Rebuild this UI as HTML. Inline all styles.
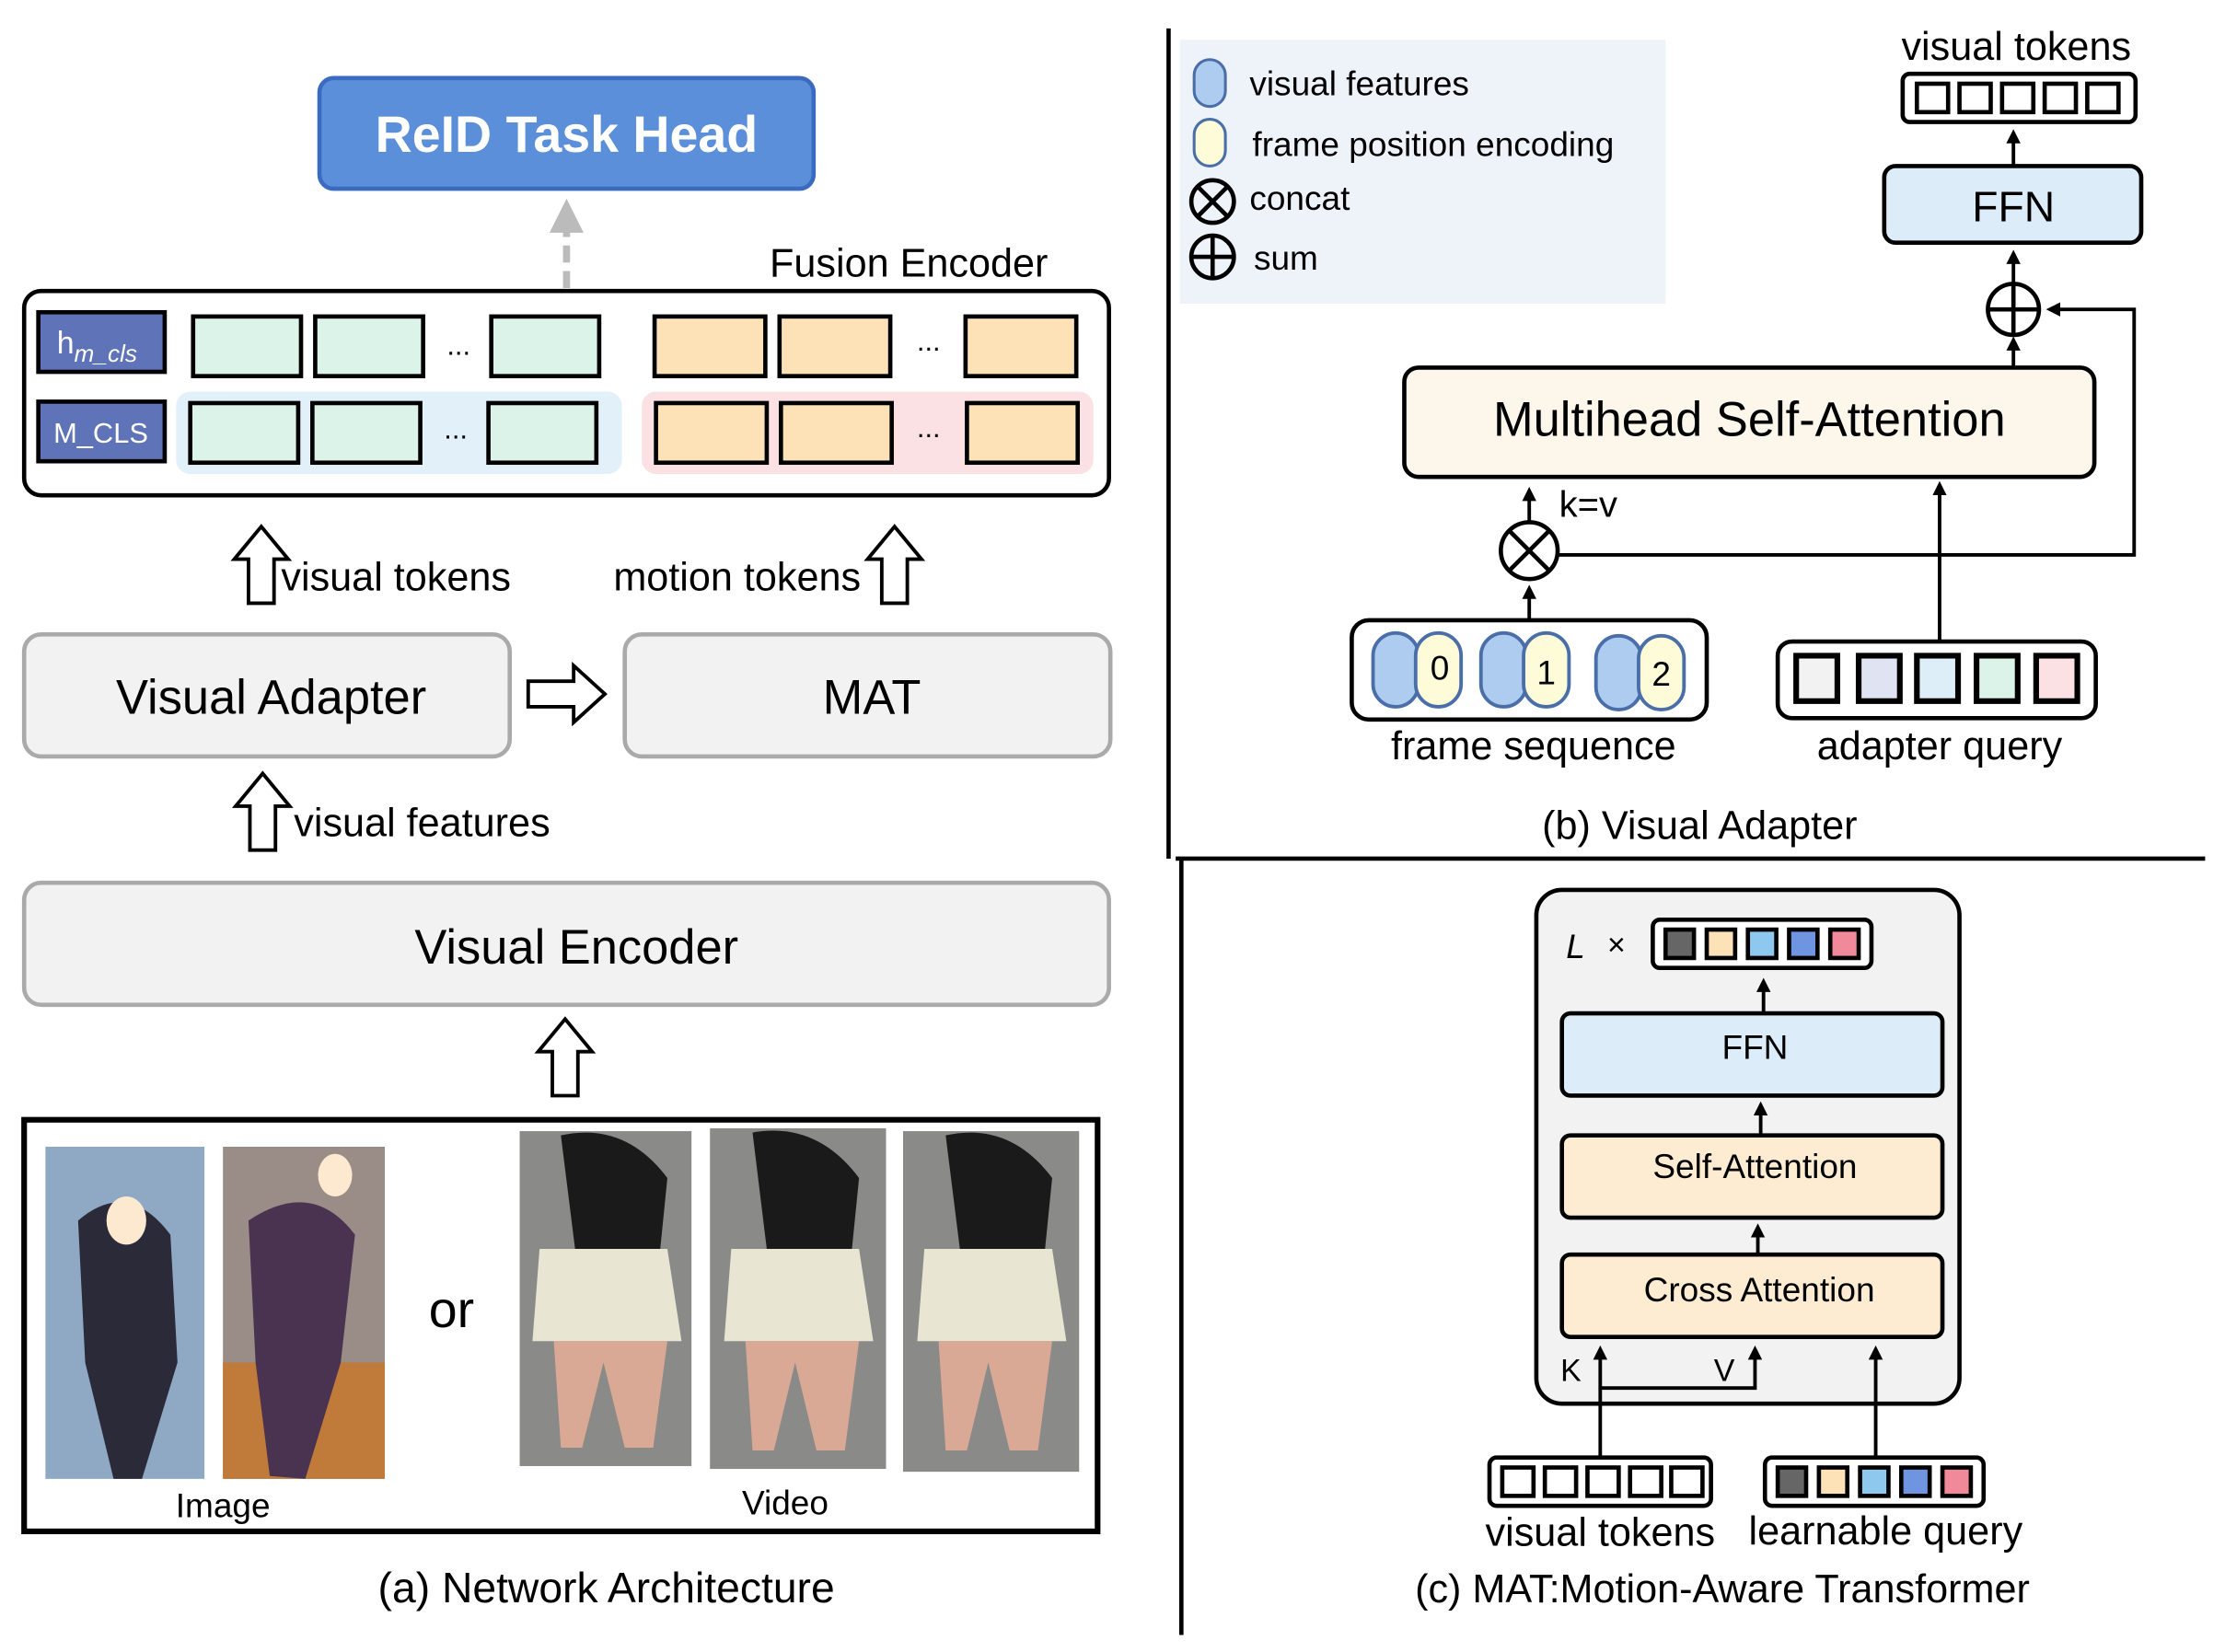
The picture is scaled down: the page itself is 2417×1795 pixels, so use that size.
<!DOCTYPE html>
<html><head><meta charset="utf-8"><style>
html,body{margin:0;padding:0;background:#fff}
svg{display:block}
text{font-family:"Liberation Sans",Arial,sans-serif;fill:#000}
</style></head><body>
<svg width="2417" height="1795" viewBox="0 0 1567 1164" preserveAspectRatio="none" xmlns="http://www.w3.org/2000/svg">
<defs>
<marker id="ah" markerWidth="10" markerHeight="10" refX="5" refY="5" orient="auto" markerUnits="userSpaceOnUse" viewBox="0 0 10 10"><path d="M0,0 L10,5 L0,10 z" fill="#000"/></marker>
<marker id="ahg" markerWidth="24" markerHeight="24" refX="12" refY="12" orient="auto" markerUnits="userSpaceOnUse" viewBox="0 0 24 24"><path d="M0,0 L24,12 L0,24 z" fill="#bbb"/></marker>
</defs>

<!-- ===== Panel (a) ===== -->
<rect x="225" y="55" width="348" height="78" rx="10" fill="#5b8fd9" stroke="#3a6bc0" stroke-width="3"/>
<text x="399" y="107" font-size="36" font-weight="bold" text-anchor="middle" style="fill:#fff">ReID Task Head</text>
<line x1="399" y1="203" x2="399" y2="152" stroke="#bbb" stroke-width="5" stroke-dasharray="12,6" marker-end="url(#ahg)"/>
<text x="542" y="195" font-size="28">Fusion Encoder</text>

<rect x="17" y="205" width="764" height="144" rx="12" fill="#fff" stroke="#000" stroke-width="3"/>
<rect x="124" y="276" width="314" height="58" rx="10" fill="#e2f0fa"/>
<rect x="452" y="276" width="318" height="58" rx="10" fill="#fbe1e3"/>
<rect x="27" y="220" width="89" height="42" fill="#5f74b8" stroke="#000" stroke-width="3"/>
<text x="40" y="249" font-size="22" style="fill:#fff">h<tspan font-size="17" font-style="italic" dy="6">m_cls</tspan></text>
<rect x="27" y="283" width="89" height="42" fill="#5f74b8" stroke="#000" stroke-width="3"/>
<text x="71" y="312" font-size="20" text-anchor="middle" style="fill:#fff">M_CLS</text>
<g fill="#dcf3e9" stroke="#000" stroke-width="3">
<rect x="136" y="223" width="76" height="42"/><rect x="222" y="223" width="76" height="42"/><rect x="346" y="223" width="76" height="42"/>
<rect x="134" y="284" width="76" height="42"/><rect x="220" y="284" width="76" height="42"/><rect x="344" y="284" width="76" height="42"/>
</g>
<g fill="#fde2b8" stroke="#000" stroke-width="3">
<rect x="461" y="223" width="78" height="42"/><rect x="549" y="223" width="78" height="42"/><rect x="680" y="223" width="78" height="42"/>
<rect x="462" y="284" width="78" height="42"/><rect x="550" y="284" width="78" height="42"/><rect x="681" y="284" width="78" height="42"/>
</g>
<text x="323" y="250" font-size="20" text-anchor="middle">...</text>
<text x="321" y="309" font-size="20" text-anchor="middle">...</text>
<text x="654" y="247" font-size="20" text-anchor="middle">...</text>
<text x="654" y="308" font-size="20" text-anchor="middle">...</text>

<g fill="#fff" stroke="#000" stroke-width="2.5">
<path d="M175,425 V394 H165 L184,371 L203,394 H193 V425 Z"/>
<path d="M621,425 V394 H611 L630,371 L649,394 H639 V425 Z"/>
<path d="M176,599 V568 H166 L185,545 L204,568 H194 V599 Z"/>
<path d="M389,772 V741 H379 L398,718 L417,741 H407 V772 Z"/>
<path d="M372,480 H404 V469 L426,489 L404,509 V498 H372 Z"/>
</g>
<text x="198" y="416" font-size="28">visual tokens</text>
<text x="432" y="416" font-size="28">motion tokens</text>
<text x="207" y="589" font-size="28">visual features</text>

<rect x="17" y="447" width="342" height="86" rx="12" fill="#f2f2f2" stroke="#aaa" stroke-width="3"/>
<text x="191" y="503" font-size="34" text-anchor="middle">Visual Adapter</text>
<rect x="440" y="447" width="342" height="86" rx="12" fill="#f2f2f2" stroke="#aaa" stroke-width="3"/>
<text x="614" y="503" font-size="34" text-anchor="middle">MAT</text>
<rect x="17" y="622" width="764" height="86" rx="12" fill="#f2f2f2" stroke="#aaa" stroke-width="3"/>
<text x="406" y="679" font-size="34" text-anchor="middle">Visual Encoder</text>

<rect x="17" y="789" width="756" height="290" fill="#fff" stroke="#000" stroke-width="4"/>
<rect x="32" y="808" width="112" height="234" fill="#8fa8c4"/>
<path d="M55,860 Q90,830 120,870 L125,960 L100,1042 L80,1042 L60,960 Z" fill="#2a2a38"/>
<ellipse cx="89" cy="860" rx="14" ry="17" fill="#fde8d0"/>
<rect x="157" y="808" width="114" height="234" fill="#9a8c86"/>
<rect x="157" y="960" width="114" height="82" fill="#c07a3a"/>
<path d="M175,860 Q220,830 250,870 L240,960 L215,1042 L190,1040 L180,960 Z" fill="#4a3350"/>
<ellipse cx="236" cy="828" rx="12" ry="15" fill="#fde8d0"/>
<g>
<rect x="366" y="797" width="121" height="236" fill="#8a8a88"/>
<rect x="500" y="795" width="124" height="240" fill="#8a8a88"/>
<rect x="636" y="797" width="124" height="240" fill="#8a8a88"/>
<path d="M395,800 Q440,790 470,830 L465,880 L405,880 Z" fill="#1a1a1a"/>
<path d="M380,880 L470,880 L480,945 L375,945 Z" fill="#e8e6d2"/>
<path d="M390,945 L470,945 L460,1020 L440,1020 L425,960 L410,1020 L395,1020 Z" fill="#d9a995"/>
<path d="M530,798 Q575,790 605,830 L600,880 L540,880 Z" fill="#1a1a1a"/>
<path d="M515,880 L605,880 L615,945 L510,945 Z" fill="#e8e6d2"/>
<path d="M525,945 L605,945 L595,1022 L575,1022 L560,960 L545,1022 L530,1022 Z" fill="#d9a995"/>
<path d="M666,800 Q711,790 741,830 L736,880 L676,880 Z" fill="#1a1a1a"/>
<path d="M651,880 L741,880 L751,945 L646,945 Z" fill="#e8e6d2"/>
<path d="M661,945 L741,945 L731,1022 L711,1022 L696,960 L681,1022 L666,1022 Z" fill="#d9a995"/>
</g>
<text x="302" y="935" font-size="36">or</text>
<text x="157" y="1069" font-size="24" text-anchor="middle">Image</text>
<text x="553" y="1067" font-size="24" text-anchor="middle">Video</text>
<text x="427" y="1129" font-size="30" text-anchor="middle">(a) Network Architecture</text>

<line x1="823" y1="20" x2="823" y2="605" stroke="#000" stroke-width="3"/>
<line x1="832" y1="605" x2="832" y2="1152" stroke="#000" stroke-width="3"/>
<line x1="828" y1="605" x2="1553" y2="605" stroke="#000" stroke-width="3"/>

<!-- ===== Panel (b) ===== -->
<rect x="831" y="28" width="342" height="186" fill="#eef3fa"/>
<rect x="841" y="42" width="22" height="33" rx="11" fill="#aecbf0" stroke="#4a6fa8" stroke-width="2"/>
<text x="880" y="67" font-size="24">visual features</text>
<rect x="841" y="84" width="22" height="33" rx="11" fill="#fdfbd8" stroke="#4a6fa8" stroke-width="2"/>
<text x="882" y="110" font-size="24">frame position encoding</text>
<g stroke="#000" stroke-width="3" fill="none">
<circle cx="854" cy="142" r="15"/><line x1="843" y1="131" x2="865" y2="153"/><line x1="865" y1="131" x2="843" y2="153"/>
<circle cx="854" cy="181" r="15"/><line x1="839" y1="181" x2="869" y2="181"/><line x1="854" y1="166" x2="854" y2="196"/>
</g>
<text x="880" y="148" font-size="24">concat</text>
<text x="883" y="190" font-size="24">sum</text>

<text x="1420" y="42" font-size="28" text-anchor="middle">visual tokens</text>
<rect x="1340" y="52" width="164" height="34" rx="5" fill="#fff" stroke="#000" stroke-width="3"/>
<g fill="#fff" stroke="#000" stroke-width="3">
<rect x="1350" y="59" width="22" height="20"/><rect x="1380" y="59" width="22" height="20"/><rect x="1410" y="59" width="22" height="20"/><rect x="1440" y="59" width="22" height="20"/><rect x="1470" y="59" width="22" height="20"/>
</g>
<g stroke="#000" stroke-width="2.5" fill="none">
<line x1="1418" y1="117" x2="1418" y2="96" marker-end="url(#ah)"/>
<line x1="1418" y1="200" x2="1418" y2="181" marker-end="url(#ah)"/>
<line x1="1418" y1="259" x2="1418" y2="242" marker-end="url(#ah)"/>
<polyline points="1098,391 1503,391 1503,218 1446,218" marker-end="url(#ah)"/>
<line x1="1366" y1="452" x2="1366" y2="344" marker-end="url(#ah)"/>
<line x1="1077" y1="367" x2="1077" y2="348" marker-end="url(#ah)"/>
<line x1="1077" y1="437" x2="1077" y2="417" marker-end="url(#ah)"/>
</g>
<rect x="1327" y="117" width="181" height="54" rx="8" fill="#dcecf8" stroke="#000" stroke-width="3"/>
<text x="1418" y="156" font-size="30" text-anchor="middle">FFN</text>
<g stroke="#000" stroke-width="3" fill="#fff">
<circle cx="1418" cy="218" r="18"/><line x1="1400" y1="218" x2="1436" y2="218"/><line x1="1418" y1="200" x2="1418" y2="236"/>
</g>
<rect x="989" y="259" width="486" height="77" rx="10" fill="#fdf6ea" stroke="#000" stroke-width="3"/>
<text x="1232" y="307" font-size="34" text-anchor="middle">Multihead Self-Attention</text>
<g stroke="#000" stroke-width="3" fill="#fff">
<circle cx="1077" cy="388" r="20"/><line x1="1063" y1="374" x2="1091" y2="402"/><line x1="1091" y1="374" x2="1063" y2="402"/>
</g>
<text x="1098" y="364" font-size="26">k=v</text>

<rect x="952" y="437" width="250" height="70" rx="12" fill="#fff" stroke="#000" stroke-width="3"/>
<g stroke="#4a6fa8" stroke-width="2.5">
<rect x="967" y="446" width="32" height="52" rx="16" fill="#aecbf0"/><rect x="997" y="446" width="32" height="52" rx="16" fill="#fdfbd8"/>
<rect x="1043" y="446" width="32" height="52" rx="16" fill="#aecbf0"/><rect x="1073" y="446" width="32" height="52" rx="16" fill="#fdfbd8"/>
<rect x="1124" y="448" width="32" height="52" rx="16" fill="#aecbf0"/><rect x="1154" y="448" width="32" height="52" rx="16" fill="#fdfbd8"/>
</g>
<text x="1014" y="479" font-size="24" text-anchor="middle">0</text>
<text x="1089" y="482" font-size="24" text-anchor="middle">1</text>
<text x="1170" y="483" font-size="24" text-anchor="middle">2</text>
<text x="1080" y="535" font-size="28" text-anchor="middle">frame sequence</text>

<rect x="1252" y="452" width="224" height="54" rx="10" fill="#fff" stroke="#000" stroke-width="3"/>
<g stroke="#000" stroke-width="4">
<rect x="1265" y="462" width="29" height="32" fill="#f2f2f2"/><rect x="1309" y="462" width="29" height="32" fill="#dfe3f2"/><rect x="1350" y="462" width="29" height="32" fill="#ddeef8"/><rect x="1392" y="462" width="29" height="32" fill="#dcf3e9"/><rect x="1434" y="462" width="29" height="32" fill="#fbe1e3"/>
</g>
<text x="1366" y="535" font-size="28" text-anchor="middle">adapter query</text>
<text x="1197" y="591" font-size="28" text-anchor="middle">(b) Visual Adapter</text>

<!-- ===== Panel (c) ===== -->
<rect x="1082" y="627" width="298" height="362" rx="18" fill="#f2f2f2" stroke="#000" stroke-width="3"/>
<text x="1103" y="675" font-size="24" font-style="italic">L</text>
<text x="1132" y="673" font-size="22">×</text>
<rect x="1164" y="648" width="154" height="34" rx="5" fill="#fff" stroke="#000" stroke-width="3"/>
<g stroke="#000" stroke-width="3">
<rect x="1173" y="655" width="20" height="20" fill="#666"/><rect x="1202" y="655" width="20" height="20" fill="#fde2b8"/><rect x="1231" y="655" width="20" height="20" fill="#8ec8ee"/><rect x="1260" y="655" width="20" height="20" fill="#6f94e0"/><rect x="1289" y="655" width="20" height="20" fill="#f08a9a"/>
</g>
<g stroke="#000" stroke-width="2.5" fill="none">
<line x1="1242" y1="714" x2="1242" y2="694" marker-end="url(#ah)"/>
<line x1="1240" y1="800" x2="1240" y2="781" marker-end="url(#ah)"/>
<line x1="1238" y1="884" x2="1238" y2="867" marker-end="url(#ah)"/>
<line x1="1127" y1="1028" x2="1127" y2="953" marker-end="url(#ah)"/>
<polyline points="1127,978 1236,978 1236,953" marker-end="url(#ah)"/>
<line x1="1321" y1="1028" x2="1321" y2="953" marker-end="url(#ah)"/>
</g>
<rect x="1100" y="714" width="268" height="58" rx="6" fill="#dcecf8" stroke="#000" stroke-width="3"/>
<text x="1236" y="746" font-size="24" text-anchor="middle">FFN</text>
<rect x="1100" y="800" width="268" height="58" rx="6" fill="#fdecd2" stroke="#000" stroke-width="3"/>
<text x="1236" y="830" font-size="24" text-anchor="middle">Self-Attention</text>
<rect x="1100" y="884" width="268" height="58" rx="6" fill="#fdecd2" stroke="#000" stroke-width="3"/>
<text x="1239" y="917" font-size="24" text-anchor="middle">Cross Attention</text>
<text x="1099" y="973" font-size="22">K</text>
<text x="1207" y="973" font-size="22">V</text>

<rect x="1049" y="1027" width="156" height="34" rx="5" fill="#fff" stroke="#000" stroke-width="3"/>
<g fill="#fff" stroke="#000" stroke-width="3">
<rect x="1058" y="1034" width="22" height="20"/><rect x="1088" y="1034" width="22" height="20"/><rect x="1118" y="1034" width="22" height="20"/><rect x="1148" y="1034" width="22" height="20"/><rect x="1177" y="1034" width="22" height="20"/>
</g>
<rect x="1243" y="1027" width="154" height="34" rx="5" fill="#fff" stroke="#000" stroke-width="3"/>
<g stroke="#000" stroke-width="3">
<rect x="1252" y="1034" width="20" height="20" fill="#666"/><rect x="1281" y="1034" width="20" height="20" fill="#fde2b8"/><rect x="1310" y="1034" width="20" height="20" fill="#8ec8ee"/><rect x="1339" y="1034" width="20" height="20" fill="#6f94e0"/><rect x="1368" y="1034" width="20" height="20" fill="#f08a9a"/>
</g>
<text x="1127" y="1089" font-size="28" text-anchor="middle">visual tokens</text>
<text x="1328" y="1088" font-size="28" text-anchor="middle">learnable query</text>
<text x="1213" y="1129" font-size="28" text-anchor="middle">(c) MAT:Motion-Aware Transformer</text>
</svg>
</body></html>
